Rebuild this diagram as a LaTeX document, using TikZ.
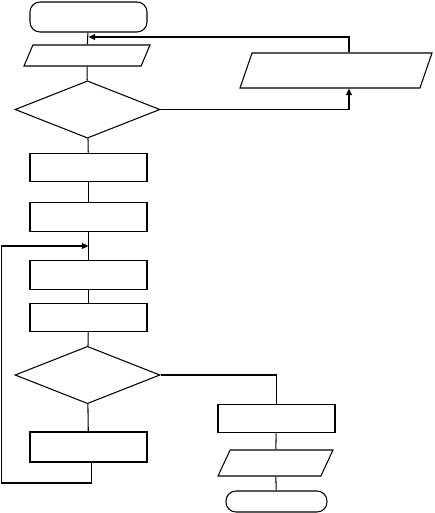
\documentclass[tikz,border=0pt]{standalone}
\usepackage{tikz}
\usetikzlibrary{arrows.meta,shapes.geometric}

\begin{document}
\begin{tikzpicture}[
      x=0.3mm, y=-0.3mm,
      every node/.style={draw, line width=0.9pt, inner sep=0pt},
      term/.style={rectangle, rounded corners=3mm, minimum width=35.1mm, minimum height=9mm},
      proc/.style={rectangle, minimum width=35.1mm, minimum height=8.6mm},
      io/.style={trapezium, trapezium stretches body=true,
        inner xsep=0.5mm, inner ysep=3.15mm,
        trapezium left angle=67, trapezium right angle=113,
        minimum width=37.8mm},
      dec/.style={diamond, minimum width=43.5mm, minimum height=17.2mm},
      link/.style={line width=0.9pt},
      flow/.style={line width=0.9pt, -{Triangle[length=2mm, width=1.8mm]}}
    ]
    \useasboundingbox (0,0) rectangle (434,513);

    % main column
    \node[term] (start) at (88.5,17) {};
    \node[io] (read) at (87,55.5) {};
    \node[dec] (check) at (87.5,109.5) {};
    \node[proc] (init) at (88.5,167.5) {};
    \node[proc] (prep) at (88.5,217) {};
    \node[proc] (calc) at (88.5,275) {};
    \node[proc] (upd) at (88.5,317.5) {};
    \node[dec] (test) at (87.5,375) {};
    \node[proc, minimum height=9mm] (step) at (88.5,447) {};

    % right branches
    \node[io, minimum width=57.6mm, inner ysep=5.25mm,
      trapezium left angle=71, trapezium right angle=109] (err) at (336,70.5) {};
    \node[proc] (fin) at (276.5,418.5) {};
    \node[io, minimum width=34.5mm, inner ysep=3.9mm,
      trapezium left angle=65, trapezium right angle=115] (out) at (275.5,463) {};
    \node[term, rounded corners=3mm, minimum width=30.3mm, minimum height=6.3mm] (stop) at (276.5,501.5) {};

    \coordinate (ret) at (349,37);
    \coordinate (merge) at (88.5,246);
    \coordinate (loop) at (1.5,483);

    \draw[link] (start) -- (read);
    \draw[link] (read) -- (check);
    \draw[link] (check) -- (init);
    \draw[link] (init) -- (prep);
    \draw[link] (prep) -- (calc);
    \draw[link] (calc) -- (upd);
    \draw[link] (upd) -- (test);
    \draw[link] (test) -- (step);
    \draw[link] (test.east) -| (fin.north);
    \draw[link] (fin) -- (out);
    \draw[link] (out) -- (stop);

    \draw[flow] (check.east) -| (err.south -| ret);
    \draw[flow] (err.north -| ret) |- (ret -| start.south);
    \draw[flow] ([xshift=1mm]step.south) |- (loop) |- (merge);
  \end{tikzpicture}
\end{document}
